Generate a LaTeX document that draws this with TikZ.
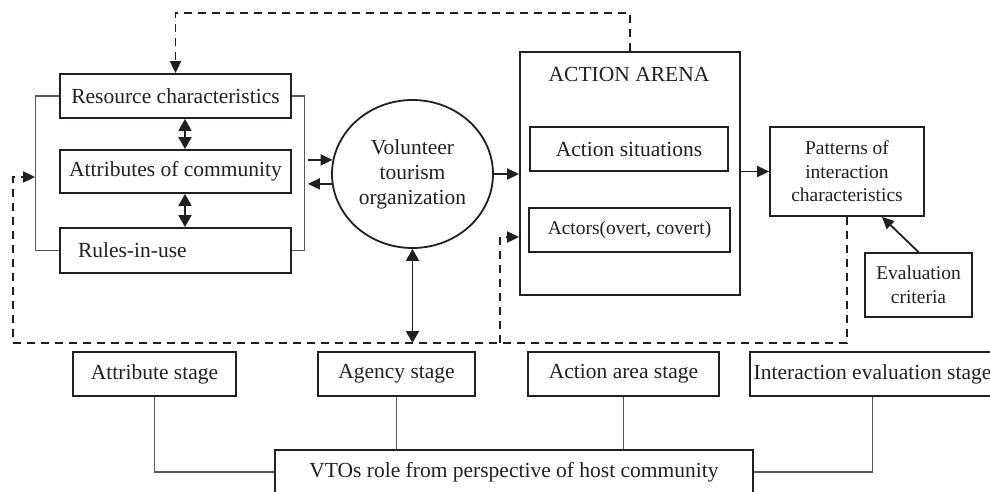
\documentclass[tikz,border=0pt]{standalone}
\usepackage{fontspec}
\setmainfont{Liberation Serif}
\usetikzlibrary{arrows.meta,shapes.geometric}
\definecolor{ink}{HTML}{231F20}
\definecolor{thin}{HTML}{5A5A5A}
\newcommand{\vtbig}{\fontsize{21.5}{25}\selectfont}
\newcommand{\vtsmall}{\fontsize{19.5}{23.5}\selectfont}
\tikzset{
  box/.style={draw=ink, line width=1.8pt, text=ink, font=\vtbig, minimum height=44pt, inner sep=2pt, align=center},
  tip/.style={-{Triangle[length=12pt,width=11pt]}},
  arr/.style={draw=ink, line width=1.8pt, tip},
  dbl/.style={draw=ink, line width=1.8pt, {Triangle[length=12pt,width=13pt]}-{Triangle[length=12pt,width=13pt]}},
  fb/.style={draw=ink, line width=1.8pt, dash pattern=on 8pt off 6pt},
  link/.style={draw=thin, line width=1.1pt}
}
\begin{document}
\begin{tikzpicture}[x=1pt, y=-1pt]
      \useasboundingbox (0,0) rectangle (990,492);
      \clip (0,0) rectangle (990,492);

      \node[box, minimum width=231pt] (res) at (175.5,96) {Resource characteristics};
      \node[box, minimum width=231pt, minimum height=43pt] (attr) at (175.5,171.5) {Attributes of community};
      \node[box, text width=195pt, inner xsep=18pt, align=left, minimum height=45pt] (rules) at (175.5,250.5) {Rules-in-use};
      \node[box, ellipse, minimum width=161pt, minimum height=148pt, inner sep=0pt] (vto) at (412.5,174) {Volunteer\\tourism\\organization};

      \node[box, minimum width=220pt, minimum height=243pt] (arena) at (630,173.5) {};
      \node[text=ink, font=\vtbig] (arenat) at (629,74) {ACTION ARENA};
      \node[box, minimum width=198pt] (sit) at (629,149) {Action situations};
      \node[box, minimum width=201pt, font=\vtsmall] (act) at (629.5,230) {Actors(overt, covert)};
      \node[box, minimum width=154pt, minimum height=89pt, font=\vtsmall] (pat) at (847,171.5) {Patterns of\\interaction\\characteristics};
      \node[box, minimum width=107pt, minimum height=64pt, font=\vtsmall] (eval) at (918.5,285) {Evaluation\\criteria};

      \node[box, minimum width=163pt] (s1) at (154.5,374) {Attribute stage};
      \node[box, minimum width=157pt] (s2) at (396.5,374) {Agency stage};
      \node[box, minimum width=191pt] (s3) at (623.5,374) {Action area stage};
      \node[box, minimum width=245pt] (s4) at (872.5,374) {Interaction evaluation stage};
      \node[box, minimum width=478pt] (role) at (514,472) {VTOs role from perspective of host community};

      \draw[link] (res.west) -- ++(-24,0) coordinate (lbt) |- (rules.west);
      \draw[link] (res.east) -- ++(13,0) coordinate (rbt) |- (rules.east);
      \coordinate (lbr) at (lbt |- 0,177);
      \coordinate (base) at (13,343);
      \coordinate (fbj) at (500,343);

      \draw[dbl] ([xshift=9.5pt]res.south) -- ([xshift=9.5pt]attr.north);
      \draw[dbl] ([xshift=9.5pt]attr.south) -- ([xshift=9.5pt]rules.north);
      \draw[arr] ([xshift=3pt]rbt |- vto.170) -- (vto.170);
      \draw[arr] (vto.187) -- ([xshift=3pt]rbt |- vto.187);
      \draw[arr] (vto.east) -- (vto.east -| arena.west);
      \draw[arr] (arena.east |- pat.west) -- (pat.west);
      \draw[arr] (eval.north) -- ([xshift=35pt]pat.south);
      \draw[dbl] (vto.south) -- (vto.south |- base);

      \draw[fb, tip] (arena.north) |- (res.north |- 0,13) -- (res.north);
      \draw[fb, tip] (pat.south) |- (base) |- (lbr);
      \draw[fb, tip] (fbj) |- ([yshift=-7pt]act.west -| arena.west);

      \draw[link] (s1.south) |- (role.west);
      \draw[link] (s2.south) -- (s2.south |- role.north);
      \draw[link] (s3.south) -- (s3.south |- role.north);
      \draw[link] (s4.south) |- (role.east);
\end{tikzpicture}
\end{document}
